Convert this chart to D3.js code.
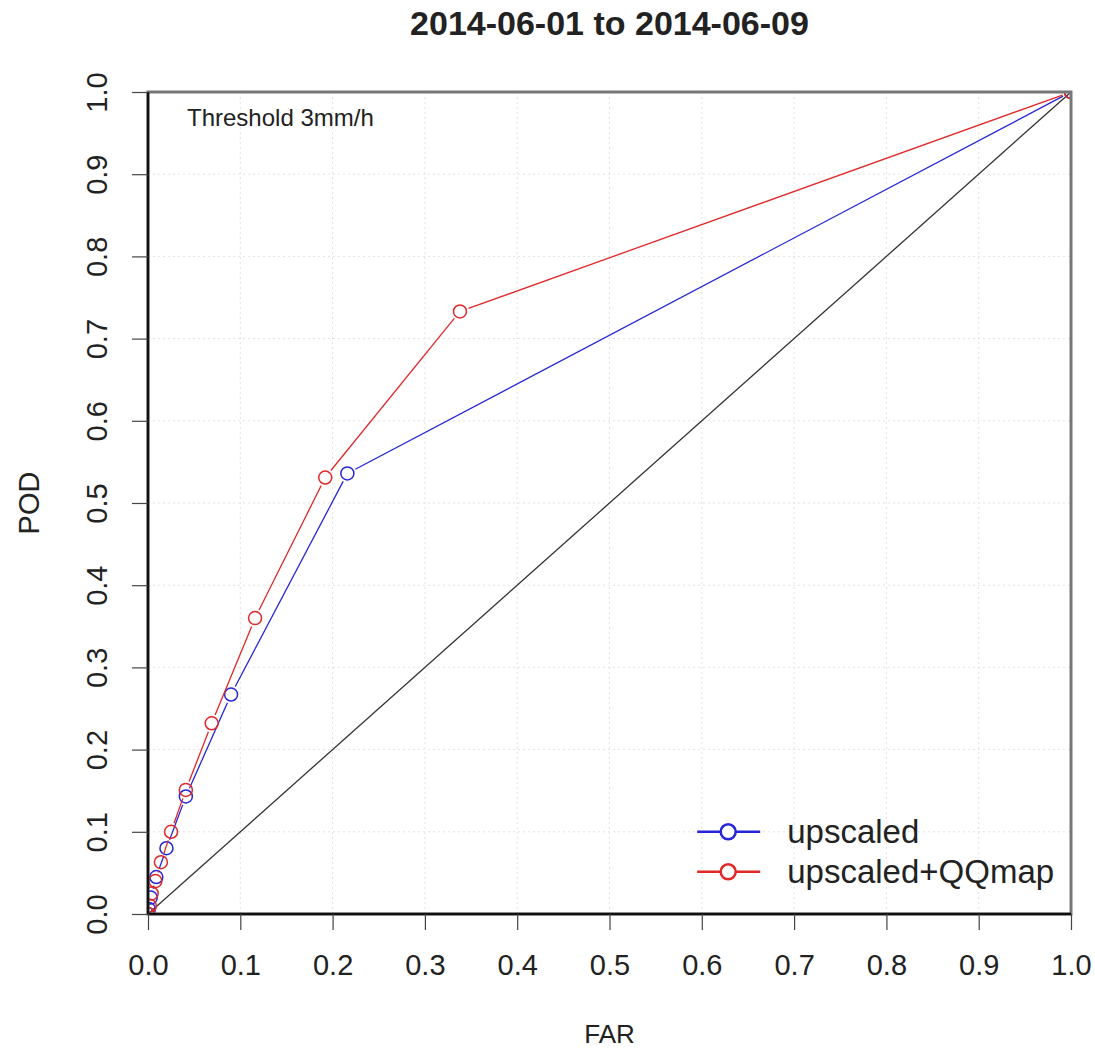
<!DOCTYPE html>
<html>
<head>
<meta charset="utf-8">
<script src="https://cdn.jsdelivr.net/npm/d3@7"></script>
<style>
  body { margin: 0; background: #fff; }
  text { font-family: "Liberation Sans", Arial, sans-serif; fill: #222; }
</style>
</head>
<body>
<div id="chart"></div>
<script>
// data
const ticks = [0, 0.1, 0.2, 0.3, 0.4, 0.5, 0.6, 0.7, 0.8, 0.9, 1.0];
const farUp = [0, 0.001, 0.003, 0.009, 0.020, 0.041, 0.090, 0.216, 1];
const podUp = [0, 0.006, 0.020, 0.045, 0.080, 0.143, 0.267, 0.536, 1];
const farQQ = [0, 0.002, 0.004, 0.008, 0.014, 0.025, 0.041, 0.069, 0.116, 0.192, 0.338, 1];
const podQQ = [0, 0.010, 0.025, 0.040, 0.063, 0.100, 0.151, 0.232, 0.360, 0.531, 0.733, 1];
const seriesNames = ['upscaled', 'upscaled+QQmap'];
const seriesColors = ['#2626d8', '#e02828'];

const W = 1095, H = 1048;
const margin = { top: 92, right: 24, bottom: 134, left: 148 };
const width = W - margin.left - margin.right;
const height = H - margin.top - margin.bottom;

const svg = d3.select('#chart').append('svg')
    .attr('width', W)
    .attr('height', H);

const x = d3.scaleLinear().domain([0, 1]).range([0, width]);
const y = d3.scaleLinear().domain([0, 1]).range([height, 0]);

const g = svg.append('g').attr('transform', `translate(${margin.left},${margin.top})`);

g.append('defs').append('clipPath').attr('id', 'clip')
    .append('rect').attr('width', width).attr('height', height);

// grid
g.selectAll('.vgrid').data(ticks).enter().append('line')
    .attr('x1', d => x(d)).attr('x2', d => x(d))
    .attr('y1', 0).attr('y2', height)
    .attr('stroke', '#e2e2e2').attr('stroke-dasharray', '2,3');
g.selectAll('.hgrid').data(ticks).enter().append('line')
    .attr('y1', d => y(d)).attr('y2', d => y(d))
    .attr('x1', 0).attr('x2', width)
    .attr('stroke', '#e2e2e2').attr('stroke-dasharray', '2,3');

// diagonal
g.append('line')
    .attr('x1', x(0)).attr('y1', y(0)).attr('x2', x(1)).attr('y2', y(1))
    .attr('stroke', '#333').attr('stroke-width', 1.3);

// lines with gaps around points (like R type="b")
const drawSeries = function(xs, ys, color) {
    const pts = xs.map((v, i) => [x(v), y(ys[i])]);
    const gap = 9;
    const layer = g.append('g').attr('clip-path', 'url(#clip)');
    for (let i = 0; i < pts.length - 1; i++) {
        const [x1, y1] = pts[i], [x2, y2] = pts[i + 1];
        const len = Math.hypot(x2 - x1, y2 - y1);
        if (len <= gap * 2) continue;
        const ux = (x2 - x1) / len, uy = (y2 - y1) / len;
        layer.append('line')
            .attr('x1', x1 + ux * gap).attr('y1', y1 + uy * gap)
            .attr('x2', x2 - ux * gap).attr('y2', y2 - uy * gap)
            .attr('stroke', color).attr('stroke-width', 1.3);
    }
    layer.selectAll(null).data(pts).enter().append('circle')
        .attr('cx', d => d[0]).attr('cy', d => d[1]).attr('r', 6.5)
        .attr('fill', 'none').attr('stroke', color).attr('stroke-width', 1.5);
};
drawSeries(farUp, podUp, seriesColors[0]);
drawSeries(farQQ, podQQ, seriesColors[1]);

// box
g.append('rect').attr('width', width).attr('height', height)
    .attr('fill', 'none').attr('stroke', '#777').attr('stroke-width', 3);
g.append('line').attr('x1', 0).attr('x2', 0).attr('y1', 0).attr('y2', height)
    .attr('stroke', '#111').attr('stroke-width', 2.5);
g.append('line').attr('x1', 0).attr('x2', width).attr('y1', height).attr('y2', height)
    .attr('stroke', '#111').attr('stroke-width', 2.5);

// axes
const xAxis = g.append('g')
    .attr('transform', `translate(0,${height})`)
    .call(d3.axisBottom(x).tickValues(ticks).tickFormat(d3.format('.1f')).tickSize(16));
xAxis.select('.domain').remove();
xAxis.selectAll('line').attr('stroke', '#444').attr('stroke-width', 1.2);
xAxis.selectAll('text')
    .attr('y', 51).attr('dy', null)
    .attr('dominant-baseline', 'central')
    .style('font-size', '29px').attr('fill', '#222');

const yAxis = g.append('g')
    .call(d3.axisLeft(y).tickValues(ticks).tickFormat(d3.format('.1f')).tickSize(16));
yAxis.select('.domain').remove();
yAxis.selectAll('line').attr('stroke', '#444').attr('stroke-width', 1.2);
yAxis.selectAll('text')
    .attr('x', 0).attr('dy', null)
    .attr('transform', 'translate(-51,0) rotate(-90)')
    .attr('text-anchor', 'middle')
    .attr('dominant-baseline', 'central')
    .style('font-size', '29px').attr('fill', '#222');

// labels
svg.append('text').attr('x', margin.left + width / 2).attr('y', 35)
    .attr('text-anchor', 'middle').style('font-size', '34px').style('font-weight', 'bold')
    .text('2014-06-01 to 2014-06-09');
svg.append('text').attr('x', margin.left + width / 2).attr('y', 1043)
    .attr('text-anchor', 'middle').style('font-size', '26px').text('FAR');
svg.append('text').attr('transform', `translate(29,${margin.top + height / 2}) rotate(-90)`)
    .attr('text-anchor', 'middle').attr('dominant-baseline', 'central')
    .style('font-size', '29px').text('POD');
g.append('text').attr('x', 39).attr('y', 34)
    .style('font-size', '24px').text('Threshold 3mm/h');

// legend
const legend = g.append('g').attr('transform', `translate(${x(0.595)},${y(0.1)})`);
seriesNames.forEach((name, i) => {
    const row = legend.append('g').attr('transform', `translate(0,${i * 40})`);
    row.append('line').attr('x1', 0).attr('x2', 63).attr('y1', 0).attr('y2', 0)
        .attr('stroke', seriesColors[i]).attr('stroke-width', 2.5);
    row.append('circle').attr('cx', 31).attr('cy', 0).attr('r', 7.5)
        .attr('fill', '#fff').attr('stroke', seriesColors[i]).attr('stroke-width', 2.5);
    row.append('text').attr('x', 90).attr('y', 0).attr('dy', '0.35em')
        .style('font-size', '33px').text(name);
});
</script>
</body>
</html>
